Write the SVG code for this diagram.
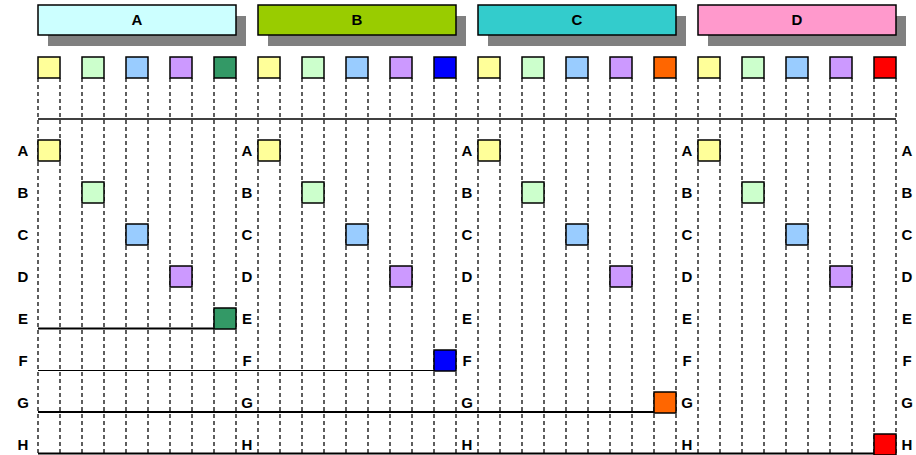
<svg xmlns="http://www.w3.org/2000/svg" width="916" height="455" viewBox="0 0 916 455">
<style>
.bg{fill:#fff}
.sh{fill:#808080}
.hdr{stroke:#000;stroke-width:1.5}
.sq{stroke:#000;stroke-width:1.5}
.vl{stroke:#1a1a1a;stroke-width:1.4;stroke-dasharray:4 3;fill:none}
.hl{stroke:#000;fill:none}
.t{font-family:"Liberation Sans",Arial,sans-serif;font-weight:bold;font-size:15px;text-anchor:middle;fill:#000}
.y{fill:#FFFF99}.g{fill:#CCFFCC}.b{fill:#99CCFF}.p{fill:#CC99FF}
</style>
<rect class="bg" x="0" y="0" width="916" height="455"/>
<g id="connectors">
<path class="vl" d="M38 78V455M60 78V455M82 78V455M104 78V455M126 78V455M148 78V455M170 78V455M192 78V455M214 78V455M236 78V455M258 78V455M280 78V455M302 78V455M324 78V455M346 78V455M368 78V455M390 78V455M412 78V455M434 78V455M456 78V455M478 78V455M500 78V455M522 78V455M544 78V455M566 78V455M588 78V455M610 78V455M632 78V455M654 78V455M676 78V455M698 78V455M720 78V455M742 78V455M764 78V455M786 78V455M808 78V455M830 78V455M852 78V455M874 78V455M896 78V455"/>
<line class="hl" x1="38" y1="119" x2="896" y2="119" stroke-width="1.6"/>
<line class="hl" x1="38" y1="328.5" x2="214" y2="328.5" stroke-width="1.8"/>
<line class="hl" x1="38" y1="370.5" x2="434" y2="370.5" stroke-width="1"/>
<line class="hl" x1="38" y1="412" x2="654" y2="412" stroke-width="1.8"/>
<line class="hl" x1="38" y1="453.5" x2="874" y2="453.5" stroke-width="2" stroke="#666"/>
</g>
<g id="header-A"><rect class="sh" x="48" y="16" width="198" height="30"/><rect class="hdr" x="38" y="5" width="198" height="30" fill="#CCFFFF"/><text class="t" x="137" y="25">A</text></g>
<g id="header-B"><rect class="sh" x="268" y="16" width="198" height="30"/><rect class="hdr" x="258" y="5" width="198" height="30" fill="#99CC00"/><text class="t" x="357" y="25">B</text></g>
<g id="header-C"><rect class="sh" x="488" y="16" width="198" height="30"/><rect class="hdr" x="478" y="5" width="198" height="30" fill="#33CCCC"/><text class="t" x="577" y="25">C</text></g>
<g id="header-D"><rect class="sh" x="708" y="16" width="198" height="30"/><rect class="hdr" x="698" y="5" width="198" height="30" fill="#FF99CC"/><text class="t" x="797" y="25">D</text></g>
<g id="top-squares">
<rect class="sq y" x="38" y="57" width="22" height="21"/><rect class="sq g" x="82" y="57" width="22" height="21"/><rect class="sq b" x="126" y="57" width="22" height="21"/><rect class="sq p" x="170" y="57" width="22" height="21"/><rect class="sq" fill="#339966" x="214" y="57" width="22" height="21"/>
<rect class="sq y" x="258" y="57" width="22" height="21"/><rect class="sq g" x="302" y="57" width="22" height="21"/><rect class="sq b" x="346" y="57" width="22" height="21"/><rect class="sq p" x="390" y="57" width="22" height="21"/><rect class="sq" fill="#0000FF" x="434" y="57" width="22" height="21"/>
<rect class="sq y" x="478" y="57" width="22" height="21"/><rect class="sq g" x="522" y="57" width="22" height="21"/><rect class="sq b" x="566" y="57" width="22" height="21"/><rect class="sq p" x="610" y="57" width="22" height="21"/><rect class="sq" fill="#FF6600" x="654" y="57" width="22" height="21"/>
<rect class="sq y" x="698" y="57" width="22" height="21"/><rect class="sq g" x="742" y="57" width="22" height="21"/><rect class="sq b" x="786" y="57" width="22" height="21"/><rect class="sq p" x="830" y="57" width="22" height="21"/><rect class="sq" fill="#FF0000" x="874" y="57" width="22" height="21"/>
</g>
<g id="row-squares">
<rect class="sq y" x="38" y="140" width="22" height="21"/><rect class="sq y" x="258" y="140" width="22" height="21"/><rect class="sq y" x="478" y="140" width="22" height="21"/><rect class="sq y" x="698" y="140" width="22" height="21"/>
<rect class="sq g" x="82" y="182" width="22" height="21"/><rect class="sq g" x="302" y="182" width="22" height="21"/><rect class="sq g" x="522" y="182" width="22" height="21"/><rect class="sq g" x="742" y="182" width="22" height="21"/>
<rect class="sq b" x="126" y="224" width="22" height="21"/><rect class="sq b" x="346" y="224" width="22" height="21"/><rect class="sq b" x="566" y="224" width="22" height="21"/><rect class="sq b" x="786" y="224" width="22" height="21"/>
<rect class="sq p" x="170" y="266" width="22" height="21"/><rect class="sq p" x="390" y="266" width="22" height="21"/><rect class="sq p" x="610" y="266" width="22" height="21"/><rect class="sq p" x="830" y="266" width="22" height="21"/>
<rect class="sq" fill="#339966" x="214" y="308" width="22" height="21"/>
<rect class="sq" fill="#0000FF" x="434" y="350" width="22" height="21"/>
<rect class="sq" fill="#FF6600" x="654" y="392" width="22" height="21"/>
<rect class="sq" fill="#FF0000" x="874" y="434" width="22" height="21"/>
</g>
<g id="row-labels">
<text class="t" x="23" y="156">A</text><text class="t" x="247" y="156">A</text><text class="t" x="467" y="156">A</text><text class="t" x="687" y="156">A</text><text class="t" x="907" y="156">A</text>
<text class="t" x="23" y="198">B</text><text class="t" x="247" y="198">B</text><text class="t" x="467" y="198">B</text><text class="t" x="687" y="198">B</text><text class="t" x="907" y="198">B</text>
<text class="t" x="23" y="240">C</text><text class="t" x="247" y="240">C</text><text class="t" x="467" y="240">C</text><text class="t" x="687" y="240">C</text><text class="t" x="907" y="240">C</text>
<text class="t" x="23" y="282">D</text><text class="t" x="247" y="282">D</text><text class="t" x="467" y="282">D</text><text class="t" x="687" y="282">D</text><text class="t" x="907" y="282">D</text>
<text class="t" x="23" y="324">E</text><text class="t" x="247" y="324">E</text><text class="t" x="467" y="324">E</text><text class="t" x="687" y="324">E</text><text class="t" x="907" y="324">E</text>
<text class="t" x="23" y="366">F</text><text class="t" x="247" y="366">F</text><text class="t" x="467" y="366">F</text><text class="t" x="687" y="366">F</text><text class="t" x="907" y="366">F</text>
<text class="t" x="23" y="408">G</text><text class="t" x="247" y="408">G</text><text class="t" x="467" y="408">G</text><text class="t" x="687" y="408">G</text><text class="t" x="907" y="408">G</text>
<text class="t" x="23" y="450">H</text><text class="t" x="247" y="450">H</text><text class="t" x="467" y="450">H</text><text class="t" x="687" y="450">H</text><text class="t" x="907" y="450">H</text>
</g>
</svg>
